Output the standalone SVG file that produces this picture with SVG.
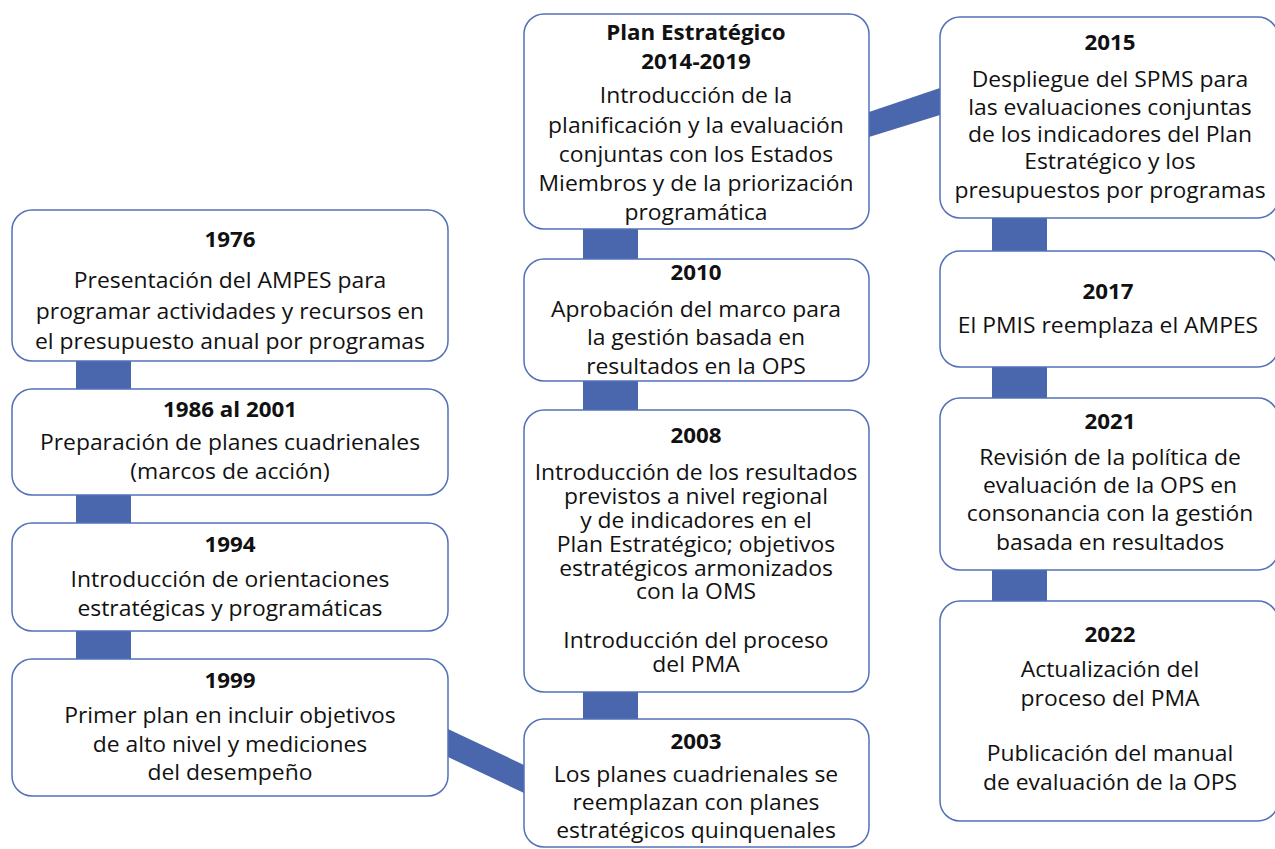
<svg xmlns="http://www.w3.org/2000/svg" width="1275" height="849" viewBox="0 0 1275 849">
<style>
.box{fill:#fff;stroke:#5271b8;stroke-width:1.5}
.c{fill:#4a66ad}
text{font-family:"Open Sans","Noto Sans",sans-serif;text-anchor:middle;fill:#111}
.y{font-weight:bold;font-size:20.5px}
.t{font-size:21px}
</style>
<rect width="1275" height="849" fill="#fff"/>
<g id="connectors">
<rect class="c" x="76" y="360" width="55" height="29"/>
<rect class="c" x="76" y="494" width="55" height="29"/>
<rect class="c" x="76" y="630" width="55" height="29"/>
<rect class="c" x="583" y="228" width="55" height="31"/>
<rect class="c" x="583" y="380" width="55" height="30"/>
<rect class="c" x="583" y="691" width="55" height="28"/>
<rect class="c" x="992" y="217" width="55" height="34"/>
<rect class="c" x="992" y="366" width="55" height="32"/>
<rect class="c" x="992" y="569" width="55" height="32"/>
<polygon class="c" points="448,729 524,765 524,793 448,757"/>
<polygon class="c" points="869,112 940,88 940,115 869,137"/>
</g>
<g id="n1976">
<rect class="box" x="12" y="210" width="436" height="151" rx="20"/>
<g transform="translate(230 0) scale(1.09 1) translate(-230 0)">
<text class="y" x="230" y="247">1976</text>
<text class="t" x="230" y="288">Presentación del AMPES para</text>
<text class="t" x="230" y="319">programar actividades y recursos en</text>
<text class="t" x="230" y="349">el presupuesto anual por programas</text>
</g>
</g>
<g id="n1986">
<rect class="box" x="12" y="389" width="436" height="106" rx="20"/>
<g transform="translate(230 0) scale(1.09 1) translate(-230 0)">
<text class="y" x="230" y="417">1986 al 2001</text>
<text class="t" x="230" y="450">Preparación de planes cuadrienales</text>
<text class="t" x="230" y="479">(marcos de acción)</text>
</g>
</g>
<g id="n1994">
<rect class="box" x="12" y="523" width="436" height="108" rx="20"/>
<g transform="translate(230 0) scale(1.09 1) translate(-230 0)">
<text class="y" x="230" y="552">1994</text>
<text class="t" x="230" y="587">Introducción de orientaciones</text>
<text class="t" x="230" y="616">estratégicas y programáticas</text>
</g>
</g>
<g id="n1999">
<rect class="box" x="12" y="659" width="436" height="137" rx="20"/>
<g transform="translate(230 0) scale(1.09 1) translate(-230 0)">
<text class="y" x="230" y="688">1999</text>
<text class="t" x="230" y="723">Primer plan en incluir objetivos</text>
<text class="t" x="230" y="752">de alto nivel y mediciones</text>
<text class="t" x="230" y="780">del desempeño</text>
</g>
</g>
<g id="nPE">
<rect class="box" x="524" y="14" width="345" height="215" rx="20"/>
<g transform="translate(696 0) scale(1.09 1) translate(-696 0)">
<text class="y" x="696" y="40">Plan Estratégico</text>
<text class="y" x="696" y="69">2014-2019</text>
<text class="t" x="696" y="103">Introducción de la</text>
<text class="t" x="696" y="133">planificación y la evaluación</text>
<text class="t" x="696" y="162">conjuntas con los Estados</text>
<text class="t" x="696" y="191">Miembros y de la priorización</text>
<text class="t" x="696" y="220">programática</text>
</g>
</g>
<g id="n2010">
<rect class="box" x="524" y="259" width="345" height="122" rx="20"/>
<g transform="translate(696 0) scale(1.09 1) translate(-696 0)">
<text class="y" x="696" y="280">2010</text>
<text class="t" x="696" y="317">Aprobación del marco para</text>
<text class="t" x="696" y="345">la gestión basada en</text>
<text class="t" x="696" y="374">resultados en la OPS</text>
</g>
</g>
<g id="n2008">
<rect class="box" x="524" y="410" width="345" height="282" rx="20"/>
<g transform="translate(696 0) scale(1.09 1) translate(-696 0)">
<text class="y" x="696" y="443">2008</text>
<text class="t" x="696" y="480">Introducción de los resultados</text>
<text class="t" x="696" y="504">previstos a nivel regional</text>
<text class="t" x="696" y="528">y de indicadores en el</text>
<text class="t" x="696" y="552">Plan Estratégico; objetivos</text>
<text class="t" x="696" y="576">estratégicos armonizados</text>
<text class="t" x="696" y="599">con la OMS</text>
<text class="t" x="696" y="648">Introducción del proceso</text>
<text class="t" x="696" y="672">del PMA</text>
</g>
</g>
<g id="n2003">
<rect class="box" x="524" y="719" width="345" height="128" rx="20"/>
<g transform="translate(696 0) scale(1.09 1) translate(-696 0)">
<text class="y" x="696" y="749">2003</text>
<text class="t" x="696" y="782">Los planes cuadrienales se</text>
<text class="t" x="696" y="810">reemplazan con planes</text>
<text class="t" x="696" y="838">estratégicos quinquenales</text>
</g>
</g>
<g id="n2015">
<rect class="box" x="940" y="17" width="338" height="201" rx="20"/>
<g transform="translate(1110 0) scale(1.09 1) translate(-1110 0)">
<text class="y" x="1110" y="50">2015</text>
<text class="t" x="1110" y="87">Despliegue del SPMS para</text>
<text class="t" x="1110" y="115">las evaluaciones conjuntas</text>
<text class="t" x="1110" y="142">de los indicadores del Plan</text>
<text class="t" x="1110" y="169">Estratégico y los</text>
<text class="t" x="1110" y="198">presupuestos por programas</text>
</g>
</g>
<g id="n2017">
<rect class="box" x="940" y="251" width="338" height="116" rx="20"/>
<g transform="translate(1108 0) scale(1.09 1) translate(-1108 0)">
<text class="y" x="1108" y="299">2017</text>
<text class="t" x="1108" y="333">El PMIS reemplaza el AMPES</text>
</g>
</g>
<g id="n2021">
<rect class="box" x="940" y="398" width="338" height="172" rx="20"/>
<g transform="translate(1110 0) scale(1.09 1) translate(-1110 0)">
<text class="y" x="1110" y="429">2021</text>
<text class="t" x="1110" y="465">Revisión de la política de</text>
<text class="t" x="1110" y="493">evaluación de la OPS en</text>
<text class="t" x="1110" y="521">consonancia con la gestión</text>
<text class="t" x="1110" y="550">basada en resultados</text>
</g>
</g>
<g id="n2022">
<rect class="box" x="940" y="601" width="338" height="220" rx="20"/>
<g transform="translate(1110 0) scale(1.09 1) translate(-1110 0)">
<text class="y" x="1110" y="642">2022</text>
<text class="t" x="1110" y="677">Actualización del</text>
<text class="t" x="1110" y="706">proceso del PMA</text>
<text class="t" x="1110" y="761">Publicación del manual</text>
<text class="t" x="1110" y="790">de evaluación de la OPS</text>
</g>
</g>
</svg>
